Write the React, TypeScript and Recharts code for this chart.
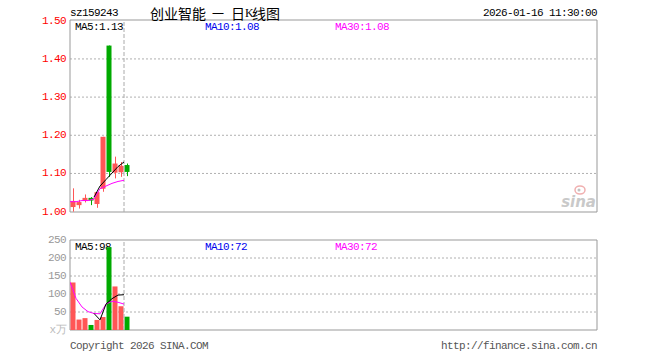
import React from 'react';
import {
  ComposedChart,
  Bar,
  Line,
  XAxis,
  YAxis,
  CartesianGrid,
  ReferenceLine,
  ReferenceArea,
  Cell,
} from 'recharts';

// ---- data ----
const openPrice = [1.012, 1.017, 1.028, 1.036, 1.02, 1.06, 1.435, 1.102, 1.103, 1.122];
const closePrice = [1.028, 1.025, 1.036, 1.029, 1.051, 1.196, 1.104, 1.126, 1.12, 1.104];
const highPrice = [1.061, 1.031, 1.045, 1.038, 1.051, 1.196, 1.435, 1.144, 1.13, 1.126];
const lowPrice = [1.0, 1.008, 1.024, 1.017, 1.01, 1.052, 1.091, 1.087, 1.091, 1.093];
const volume = [132, 29, 33, 14, 28, 36, 230, 121, 66, 37];
const priceMa5 = [null, null, null, null, 1.038, 1.067, 1.084, 1.101, 1.118, 1.13];
const priceMa30 = [1.026, 1.026, 1.029, 1.029, 1.033, 1.06, 1.067, 1.074, 1.079, 1.082];
const volMa5 = [null, null, null, null, 46, 28, 72, 87, 97, 98];
const volMa30 = [133, 88, 64, 51, 46, 45, 72, 80, 77, 72];
const priceTicks = [1.0, 1.1, 1.2, 1.3, 1.4, 1.5];
const priceGrid = [1.1, 1.2, 1.3, 1.4];
const volumeTicks = [0, 50, 100, 150, 200, 250];
const volumeGrid = [50, 100, 150, 200];
const dateTickIndex = [9];
const dateTickLabels = ['2026-01-16'];

const rows = openPrice.map((o, i) => ({
  i,
  open: o,
  close: closePrice[i],
  high: highPrice[i],
  low: lowPrice[i],
  vol: volume[i],
  ma5: priceMa5[i],
  ma30: priceMa30[i],
  vma5: volMa5[i],
  vma30: volMa30[i],
}));

const SLOTS = 87.83;
const C_SHIFT = 0.417;
const P_DOMAIN: [number, number] = [0.999, 1.502];
const V_DOMAIN: [number, number] = [0, 250];

const RED = '#ff5656';
const GREEN = '#00aa00';
const MONO = '"Liberation Mono", "DejaVu Sans Mono", monospace';

const Candle = (props: any) => {
  const { x, y, width, height, payload } = props;
  const { open, close, high, low } = payload;
  const top = Math.min(y, y + height);
  const h = Math.abs(height);
  const range = high - low;
  const toY = (v: number) => (range > 0 ? top + ((high - v) / range) * h : top);
  const color = close >= open ? RED : GREEN;
  const bTop = toY(Math.max(open, close));
  const bBot = toY(Math.min(open, close));
  const cx = Math.floor(x + width / 2) + 0.5;
  return (
    <g>
      <line x1={cx} x2={cx} y1={top} y2={top + h} stroke={color} strokeWidth={1} />
      <rect x={x} y={bTop} width={width} height={Math.max(1, bBot - bTop)} fill={color} />
    </g>
  );
};

const PriceTick = (props: any) => {
  const { x, y, payload } = props;
  return (
    <text x={x} y={y} textAnchor="end" dominantBaseline="central" fill="#ff0000"
      style={{ fontFamily: MONO, fontSize: 11, letterSpacing: -0.6 }}>
      {Number(payload.value).toFixed(2)}
    </text>
  );
};

const VolTick = (props: any) => {
  const { x, y, payload } = props;
  const isZero = payload.value === 0;
  return (
    <text x={x} y={y} textAnchor="end" dominantBaseline="central" fill={isZero ? '#bbbbbb' : '#999999'}
      style={{ fontFamily: MONO, fontSize: 11, letterSpacing: -0.6 }}>
      {isZero ? 'x万' : String(payload.value)}
    </text>
  );
};

const DateTick = (props: any) => {
  const { x, y, payload } = props;
  const idx = dateTickIndex.indexOf(payload.value);
  return (
    <text x={x} y={y + 5} textAnchor="middle" dominantBaseline="central" fill="#1a7fd4"
      style={{ fontFamily: MONO, fontSize: 11, letterSpacing: -0.6 }}>
      {idx >= 0 ? dateTickLabels[idx] : ''}
    </text>
  );
};

const txt = (x: number, y: number, s: string, fill: string, anchor: any = 'start') => (
  <text x={x} y={y} fill={fill} textAnchor={anchor} dominantBaseline="central"
    style={{ fontFamily: MONO, fontSize: 11, letterSpacing: -0.6 }}>
    {s}
  </text>
);

export default function App() {
  return (
    <div style={{ position: 'absolute', left: 0, top: 0, width: 660, height: 360, background: '#fff' }}>
      {/* labels that sit beneath the marks */}
      <svg width={660} height={360} style={{ position: 'absolute', left: 0, top: 0, pointerEvents: 'none' }}>
        {txt(75, 27, 'MA5:1.13', '#000')}
        {txt(205, 27, 'MA10:1.08', '#0000ee')}
        {txt(335, 27, 'MA30:1.08', '#ff00ff')}
        {txt(75, 246.5, 'MA5:98', '#000')}
        {txt(205, 246.5, 'MA10:72', '#0000ee')}
        {txt(335, 246.5, 'MA30:72', '#ff00ff')}
        <g opacity={0.45}>
          <ellipse cx={580} cy={190} rx={5} ry={4} fill="none" stroke="#e05050" strokeWidth={1.5} />
          <circle cx={579} cy={190} r={1.5} fill="#777" />
          <text x={596} y={207} textAnchor="end" fill="#888"
            style={{ fontFamily: '"DejaVu Sans", sans-serif', fontSize: 15, fontStyle: 'italic', fontWeight: 'bold' }}>
            sina
          </text>
        </g>
      </svg>

      <div style={{ position: 'absolute', left: 0, top: 0 }}>
        <ComposedChart width={660} height={232} data={rows} margin={{ top: 20, right: 63, bottom: 0, left: 0 }}>
          <XAxis xAxisId="l" dataKey="i" type="number" domain={[0, SLOTS]} ticks={dateTickIndex}
            interval={0} tick={<DateTick />} tickLine={{ stroke: '#999' }} tickSize={3} tickMargin={1}
            axisLine={false} height={20} allowDataOverflow />
          <XAxis xAxisId="c" dataKey="i" type="number" domain={[-C_SHIFT, SLOTS - C_SHIFT]} hide allowDataOverflow />
          <YAxis yAxisId="p" domain={P_DOMAIN} ticks={priceTicks} interval={0} width={70} axisLine={false}
            tickLine={false} tickSize={0} tickMargin={4} tick={<PriceTick />} allowDataOverflow />
          <CartesianGrid xAxisId="l" yAxisId="p" vertical={false} horizontalValues={priceGrid}
            stroke="#b0b0b0" strokeDasharray="2 2" />
          <ReferenceArea xAxisId="l" yAxisId="p" x1={0} x2={SLOTS} y1={P_DOMAIN[0]} y2={P_DOMAIN[1]}
            fill="none" stroke="#999" fillOpacity={0} ifOverflow="visible" />
          <ReferenceLine xAxisId="l" yAxisId="p" x={9} stroke="#aaa" strokeDasharray="4 2" />
          <Bar xAxisId="c" yAxisId="p" dataKey={(d: any) => [d.low, d.high]} barSize={5}
            shape={Candle} isAnimationActive={false} />
          <Line xAxisId="l" yAxisId="p" dataKey="ma30" stroke="#ff00ff" strokeWidth={1} dot={false}
            activeDot={false} isAnimationActive={false} type="linear" />
          <Line xAxisId="l" yAxisId="p" dataKey="ma5" stroke="#000" strokeWidth={1} dot={false}
            activeDot={false} isAnimationActive={false} type="linear" />
        </ComposedChart>
      </div>

      <div style={{ position: 'absolute', left: 0, top: 230 }}>
        <ComposedChart width={660} height={120} data={rows} margin={{ top: 10, right: 63, bottom: 20, left: 0 }}>
          <XAxis xAxisId="l" dataKey="i" type="number" domain={[0, SLOTS]} hide allowDataOverflow />
          <XAxis xAxisId="c" dataKey="i" type="number" domain={[-C_SHIFT, SLOTS - C_SHIFT]} hide allowDataOverflow />
          <YAxis yAxisId="v" domain={V_DOMAIN} ticks={volumeTicks} interval={0} width={70} axisLine={false}
            tickLine={false} tickSize={0} tickMargin={4} tick={<VolTick />} allowDataOverflow />
          <CartesianGrid xAxisId="l" yAxisId="v" vertical={false} horizontalValues={volumeGrid}
            stroke="#b0b0b0" strokeDasharray="2 2" />
          <ReferenceArea xAxisId="l" yAxisId="v" x1={0} x2={SLOTS} y1={V_DOMAIN[0]} y2={V_DOMAIN[1]}
            fill="none" stroke="#999" fillOpacity={0} ifOverflow="visible" />
          <ReferenceLine xAxisId="l" yAxisId="v" x={9} stroke="#aaa" strokeDasharray="4 2" />
          <Bar xAxisId="c" yAxisId="v" dataKey="vol" barSize={5} isAnimationActive={false}>
            {rows.map((r) => (
              <Cell key={r.i} fill={r.close >= r.open ? RED : GREEN} />
            ))}
          </Bar>
          <Line xAxisId="l" yAxisId="v" dataKey="vma30" stroke="#ff00ff" strokeWidth={1} dot={false}
            activeDot={false} isAnimationActive={false} type="linear" />
          <Line xAxisId="l" yAxisId="v" dataKey="vma5" stroke="#000" strokeWidth={1} dot={false}
            activeDot={false} isAnimationActive={false} type="linear" />
        </ComposedChart>
      </div>

      {/* header and footer texts */}
      <svg width={660} height={360} style={{ position: 'absolute', left: 0, top: 0, pointerEvents: 'none' }}>
        {txt(70, 13, 'sz159243', '#000')}
        <text y={13} dominantBaseline="central" fill="#000"
          style={{ fontFamily: '"Noto Sans CJK SC", sans-serif', fontSize: 14 }}>
          <tspan x={150}>创业智能</tspan>
          <tspan x={212} style={{ fontSize: 12 }}>一</tspan>
          <tspan x={231}>日</tspan>
          <tspan x={245} style={{ fontFamily: '"Liberation Serif", serif', fontSize: 12 }}>K</tspan>
          <tspan x={252}>线图</tspan>
        </text>
        {txt(597, 13, '2026-01-16 11:30:00', '#000', 'end')}
        {txt(70, 346, 'Copyright 2026 SINA.COM', '#555')}
        {txt(597, 346, 'http://finance.sina.com.cn', '#555', 'end')}
      </svg>
    </div>
  );
}
